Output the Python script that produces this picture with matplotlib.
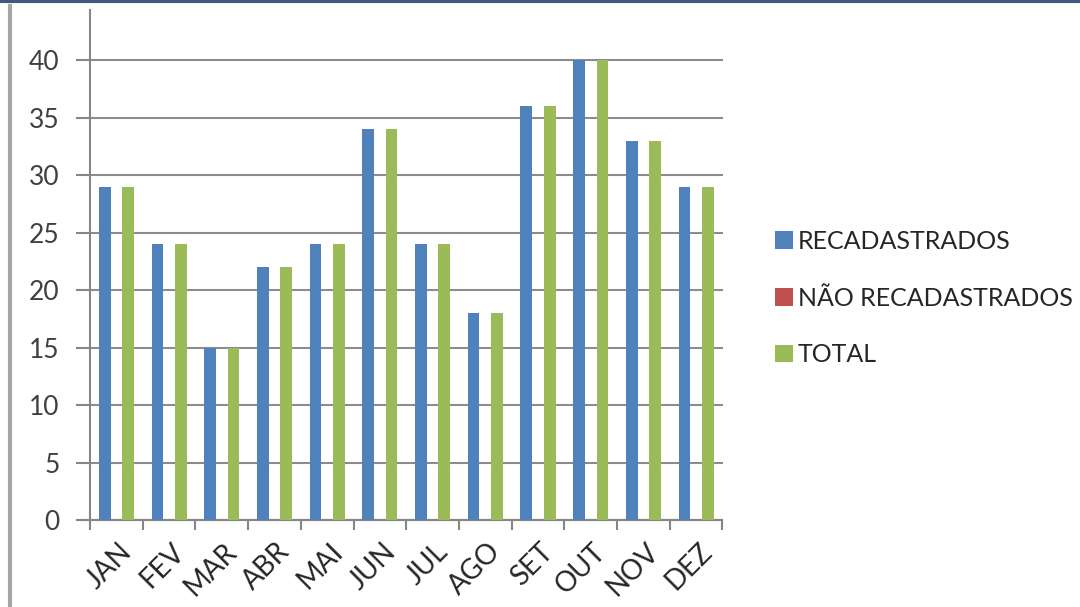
import numpy as np
import matplotlib.pyplot as plt
from matplotlib.lines import Line2D

# dados
meses = ['JAN', 'FEV', 'MAR', 'ABR', 'MAI', 'JUN', 'JUL', 'AGO', 'SET', 'OUT', 'NOV', 'DEZ']
recadastrados = [29, 24, 15, 22, 24, 34, 24, 18, 36, 40, 33, 29]
nao_recadastrados = [0, 0, 0, 0, 0, 0, 0, 0, 0, 0, 0, 0]
total = [29, 24, 15, 22, 24, 34, 24, 18, 36, 40, 33, 29]

series = [('RECADASTRADOS', recadastrados, '#4F81BD'),
          ('NÃO RECADASTRADOS', nao_recadastrados, '#C0504D'),
          ('TOTAL', total, '#9BBB59')]

plt.rcParams['font.family'] = ['Lato', 'DejaVu Sans']

fig = plt.figure(figsize=(10.8, 6.07), dpi=100)
ax = fig.add_axes([90 / 1080, 1 - 520 / 607, 632.5 / 1080, 510 / 607])

x = np.arange(len(meses))
w = 0.222
for k, (nome, vals, cor) in enumerate(series):
    ax.bar(x + (k - 1) * w, vals, width=w, color=cor, label=nome, zorder=3)

ax.set_xlim(-0.5, len(meses) - 0.5)
ax.set_ylim(0, 44.35)
ax.set_yticks(np.arange(0, 41, 5))
ax.tick_params(axis='y', labelsize=19, labelcolor='#404040', color='#868686',
               length=10, width=1.5, pad=12)

# ticks do eixo x nas divisas entre categorias (estilo Excel)
ax.set_xticks(np.arange(-0.5, len(meses), 1.0))
ax.set_xticklabels([])
ax.tick_params(axis='x', color='#868686', length=7, width=1.5)
for i, m in enumerate(meses):
    ax.text(i + 0.04, -1.6, m, rotation=45, ha='right', va='top',
            rotation_mode='anchor', fontsize=20, color='#262626')

ax.grid(axis='y', color='#8c8c8c', linewidth=1.5, zorder=0)
for s in ['top', 'right']:
    ax.spines[s].set_visible(False)
for s in ['left', 'bottom']:
    ax.spines[s].set_color('#868686')
    ax.spines[s].set_linewidth(1.5)

leg = ax.legend(loc='center left', bbox_to_anchor=(765 / 1080, 1 - 298 / 607),
                bbox_transform=fig.transFigure, frameon=False, fontsize=18,
                handlelength=0.7, handleheight=0.7, handletextpad=0.2,
                labelspacing=1.35, borderaxespad=0)
for t in leg.get_texts():
    t.set_color('#262626')

# moldura do slide
fig.add_artist(Line2D([0, 1], [0.998, 0.998], transform=fig.transFigure,
                      color='#3d5a78', linewidth=3))
fig.add_artist(Line2D([10 / 1080, 10 / 1080], [0, 0.99], transform=fig.transFigure,
                      color='#a6a6a6', linewidth=3))

fig.savefig('out.png', dpi=100, facecolor='white')
